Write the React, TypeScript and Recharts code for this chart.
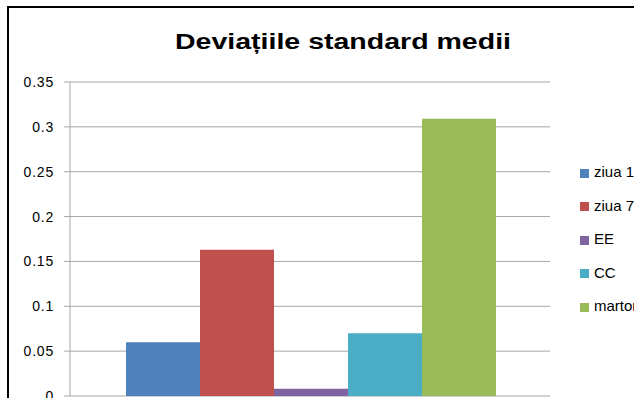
import { BarChart, Bar, XAxis, YAxis, CartesianGrid } from "recharts";

const seriesNames = ["ziua 1", "ziua 7", "EE", "CC", "martor"];
const seriesValues = [0.06, 0.163, 0.008, 0.07, 0.309];
const seriesColors = ["#4F81BD", "#C0504D", "#8064A2", "#4BACC6", "#9BBB59"];
const yTicks = [0, 0.05, 0.1, 0.15, 0.2, 0.25, 0.3, 0.35];

const row: Record<string, number | string> = { name: "medii" };
seriesNames.forEach((n, i) => {
  row[n] = seriesValues[i];
});
const data = [row];

function LegendBox() {
  return (
    <div
      style={{
        position: "absolute",
        left: 580,
        top: 155,
        fontFamily: "'Liberation Sans', Arial, sans-serif",
        fontSize: 15,
      }}
    >
      {seriesNames.map((n, i) => (
        <div
          key={n}
          style={{ display: "flex", alignItems: "center", height: 33.5, whiteSpace: "nowrap" }}
        >
          <span
            style={{
              display: "inline-block",
              width: 9,
              height: 9,
              background: seriesColors[i],
              marginRight: 5,
              marginTop: 3,
            }}
          />
          <span style={{ color: "#000" }}>{n}</span>
        </div>
      ))}
    </div>
  );
}

export default function App() {
  return (
    <div
      style={{
        position: "absolute",
        left: 0,
        top: 0,
        width: 634,
        height: 398,
        overflow: "hidden",
        background: "white",
      }}
    >
      <div
        style={{
          position: "absolute",
          left: 7,
          top: 6,
          width: 700,
          height: 500,
          borderLeft: "2px solid #000",
          borderTop: "2px solid #000",
        }}
      />
      <svg width={634} height={70} style={{ position: "absolute", left: 0, top: 0 }}>
        <text
          x={175}
          y={49}
          textLength={336}
          lengthAdjust="spacingAndGlyphs"
          fontFamily="'Liberation Sans', Arial, sans-serif"
          fontWeight="bold"
          fontSize={22}
          fill="#000"
        >
          Deviațiile standard medii
        </text>
      </svg>
      <div style={{ position: "absolute", left: 0, top: 0 }}>
        <BarChart
          width={634}
          height={398}
          data={data}
          margin={{ top: 82, right: 84, bottom: 2, left: 10 }}
          barCategoryGap={56}
          barGap={0}
        >
          <CartesianGrid vertical={false} stroke="#a6a6a6" strokeWidth={1} />
          <XAxis dataKey="name" hide />
          <YAxis
            width={60}
            domain={[0, 0.35]}
            ticks={yTicks}
            interval={0}
            tickSize={6}
            tickMargin={10}
            stroke="#a6a6a6"
            tick={{
              fill: "#000",
              fontSize: 14,
              letterSpacing: 0.8,
              fontFamily: "'Liberation Sans', Arial, sans-serif",
            }}
          />
          {seriesNames.map((n, i) => (
            <Bar key={n} dataKey={n} fill={seriesColors[i]} isAnimationActive={false} />
          ))}
        </BarChart>
      </div>
      <LegendBox />
    </div>
  );
}
